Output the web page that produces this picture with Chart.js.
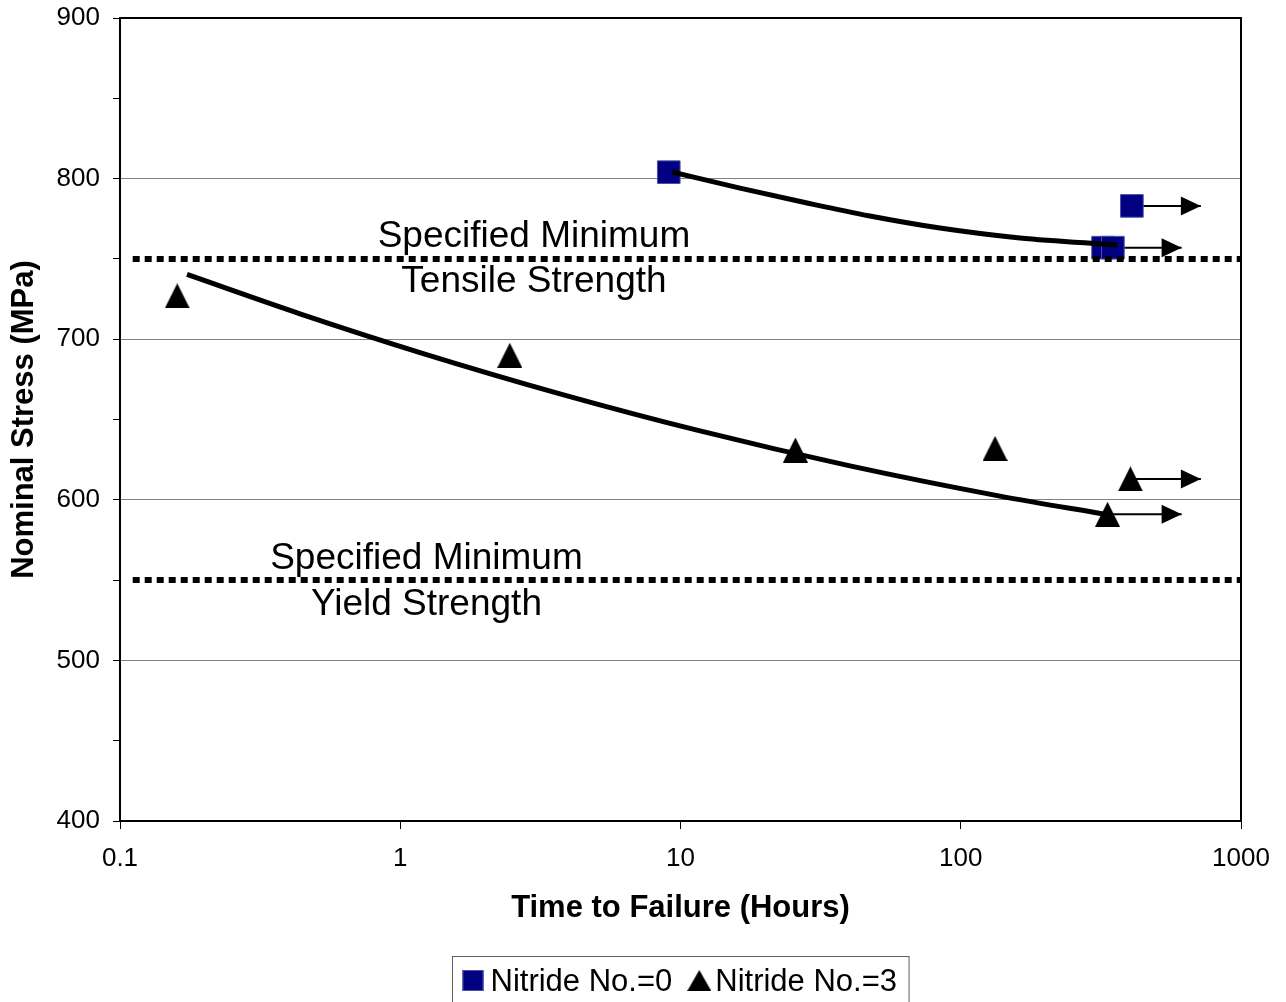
<!DOCTYPE html>
<html>
<head>
<meta charset="utf-8">
<title>Nominal Stress vs Time to Failure</title>
<script src="https://cdn.jsdelivr.net/npm/chart.js@4.4.0/dist/chart.umd.min.js"></script>
<style>
  body { margin: 0; background: #fff; }
  canvas { display: block; }
</style>
</head>
<body>
<canvas id="chart" width="1286" height="1002"></canvas>
<script>
// measured points
const nitride0Hours = [9.08, 322, 349, 408];
const nitride0Stress = [804, 757, 757, 783];
const nitride3Hours = [0.16, 2.46, 25.7, 132.5, 403, 334];
const nitride3Stress = [727, 690, 631, 632, 613, 591];

// trend curves
const trend0Hours = [9.33, 16.3, 28.3, 47.4, 84.3, 162.6, 361];
const trend0Stress = [804.1, 794.1, 784.8, 776.7, 769.2, 763, 758.7];
const trend3Hours = [0.1734, 0.4387, 1.176, 3.715, 11.74, 40.25, 138, 332.6];
const trend3Stress = [740.3, 715.8, 691.7, 666, 642.9, 621.1, 602.3, 590.8];

// run-outs: arrow from the last reading out to the tip
const runoutHours = [408, 349, 403, 334];
const runoutTipHours = [719, 614, 719, 614];
const runoutStress = [783, 757, 613, 591];

// specified minimum strengths
const limitHours = [0.111, 1000];
const tensileMin = 750;
const yieldMin = 550;

const xTicks = [0.1, 1, 10, 100, 1000];
const yMin = 400;
const yMax = 900;
const yStep = 50;

Chart.defaults.font.family = "'Liberation Sans', Arial, sans-serif";
Chart.defaults.color = "#000";

function makeTriangle(w, h) {
    const c = document.createElement("canvas");
    c.width = w;
    c.height = h;
    const g = c.getContext("2d");
    g.fillStyle = "#000";
    g.beginPath();
    g.moveTo(w / 2, 0);
    g.lineTo(w, h);
    g.lineTo(0, h);
    g.closePath();
    g.fill();
    return c;
}

const triangleMark = makeTriangle(25, 25);
const triangleLegend = makeTriangle(24, 21);

function toPoints(xs, ys) {
    return xs.map((x, i) => ({ x: x, y: ys[i] }));
}

function limitLine(label, value) {
    return {
        label: label,
        type: "line",
        data: limitHours.map(x => ({ x: x, y: value })),
        borderColor: "#000",
        borderWidth: 6,
        borderDash: [7, 5],
        borderCapStyle: "butt",
        pointRadius: 0,
        fill: false
    };
}

function trendLine(label, xs, ys) {
    return {
        label: label,
        type: "line",
        data: toPoints(xs, ys),
        borderColor: "#000",
        borderWidth: 5,
        cubicInterpolationMode: "monotone",
        pointRadius: 0,
        fill: false
    };
}

const arrowSets = runoutHours.map((x, i) => ({
    label: "runout",
    type: "line",
    data: [{ x: x, y: runoutStress[i] }, { x: runoutTipHours[i], y: runoutStress[i] }],
    borderColor: "#000",
    borderWidth: 2,
    pointRadius: 0,
    fill: false
}));

// arrow heads on the run-out lines
const arrowHeads = {
    id: "arrowHeads",
    afterDatasetsDraw(chart) {
        const ctx = chart.ctx;
        ctx.save();
        ctx.fillStyle = "#000";
        chart.data.datasets.forEach((ds, i) => {
            if (ds.label !== "runout") return;
            const pts = chart.getDatasetMeta(i).data;
            const tip = pts[pts.length - 1];
            ctx.beginPath();
            ctx.moveTo(tip.x, tip.y);
            ctx.lineTo(tip.x - 20, tip.y - 9.5);
            ctx.lineTo(tip.x - 20, tip.y + 9.5);
            ctx.closePath();
            ctx.fill();
        });
        ctx.restore();
    }
};

// text notes next to the dotted lines, plus the frame
const notes = {
    id: "notes",
    afterDatasetsDraw(chart) {
        const ctx = chart.ctx;
        const xs = chart.scales.x;
        const ys = chart.scales.y;
        const items = [
            ["Specified Minimum", 3.0, 764],
            ["Tensile Strength", 3.0, 735.5],
            ["Specified Minimum", 1.24, 563],
            ["Yield Strength", 1.24, 534.5]
        ];
        ctx.save();
        ctx.fillStyle = "#000";
        ctx.font = "37px 'Liberation Sans', Arial, sans-serif";
        ctx.textAlign = "center";
        ctx.textBaseline = "middle";
        items.forEach(it => {
            ctx.fillText(it[0], xs.getPixelForValue(it[1]), ys.getPixelForValue(it[2]));
        });
        const a = chart.chartArea;
        ctx.strokeStyle = "#000";
        ctx.lineWidth = 2;
        ctx.strokeRect(a.left, a.top, a.right - a.left, a.bottom - a.top);
        ctx.restore();
    }
};

// boxed legend under the axis title
const boxLegend = {
    id: "boxLegend",
    afterDraw(chart) {
        const ctx = chart.ctx;
        const a = chart.chartArea;
        const names = ["Nitride No.=0", "Nitride No.=3"];
        ctx.save();
        ctx.font = "31px 'Liberation Sans', Arial, sans-serif";
        const w0 = ctx.measureText(names[0]).width;
        const w1 = ctx.measureText(names[1]).width;
        const total = 10 + 21 + 7 + w0 + 15 + 24 + 4 + w1 + 12;
        const left = Math.round((a.left + a.right) / 2 - total / 2) + 0.5;
        const top = 956.5;
        ctx.strokeStyle = "#606060";
        ctx.lineWidth = 1;
        ctx.strokeRect(left, top, total, 60);

        let x = left + 10;
        ctx.fillStyle = "#000080";
        ctx.fillRect(x, 970, 21, 21);
        ctx.strokeStyle = "#4d4dad";
        ctx.strokeRect(x + 0.5, 970.5, 20, 20);
        x += 21 + 7;
        ctx.fillStyle = "#000";
        ctx.textBaseline = "alphabetic";
        ctx.fillText(names[0], x, 991);
        x += w0 + 15;
        ctx.drawImage(triangleLegend, x, 970);
        x += 24 + 4;
        ctx.fillText(names[1], x, 991);
        ctx.restore();
    }
};

const ctx = document.getElementById("chart").getContext("2d");
new Chart(ctx, {
    type: "scatter",
    data: {
        datasets: [
            limitLine("Tensile min", tensileMin),
            limitLine("Yield min", yieldMin),
            trendLine("Trend 0", trend0Hours, trend0Stress),
            trendLine("Trend 3", trend3Hours, trend3Stress),
            {
                label: "Nitride No.=0",
                data: toPoints(nitride0Hours, nitride0Stress),
                pointStyle: "rect",
                pointRadius: 16,
                backgroundColor: "#000080",
                borderColor: "#4d4dad",
                borderWidth: 1
            },
            {
                label: "Nitride No.=3",
                data: toPoints(nitride3Hours, nitride3Stress),
                pointStyle: triangleMark,
                pointRadius: 12,
                backgroundColor: "#000",
                borderColor: "#000"
            },
            ...arrowSets
        ]
    },
    options: {
        responsive: false,
        animation: false,
        events: [],
        layout: { padding: { top: 18, right: 45, bottom: 71, left: 0 } },
        plugins: {
            legend: { display: false },
            tooltip: { enabled: false }
        },
        scales: {
            x: {
                type: "logarithmic",
                min: xTicks[0],
                max: xTicks[xTicks.length - 1],
                afterBuildTicks: (scale) => {
                    scale.ticks = xTicks.map(v => ({ value: v }));
                },
                afterFit: (scale) => { scale.height = 110; },
                ticks: {
                    color: "#000",
                    font: { size: 26 },
                    padding: 14,
                    maxRotation: 0,
                    autoSkip: false,
                    callback: (v) => String(v)
                },
                grid: { drawOnChartArea: false, color: "#000", tickLength: 8, lineWidth: 1 },
                border: { color: "#000", width: 2 },
                title: {
                    display: true,
                    text: "Time to Failure (Hours)",
                    color: "#000",
                    font: { size: 31, weight: "bold" },
                    padding: { top: 0, bottom: 4 }
                }
            },
            y: {
                min: yMin,
                max: yMax,
                afterFit: (scale) => {
                    scale.width = 120;
                    // the 900 label fits in the top padding already
                    scale.paddingTop = 0;
                    scale.paddingBottom = 0;
                },
                ticks: {
                    stepSize: yStep,
                    autoSkip: false,
                    color: "#000",
                    font: { size: 26 },
                    padding: 13,
                    callback: (v) => (v % 100 === 0 ? v : "")
                },
                grid: {
                    color: (c) => (c.tick && c.tick.value % 100 === 0 ? "#808080" : "rgba(0,0,0,0)"),
                    tickColor: "#000",
                    tickLength: 7,
                    lineWidth: 1
                },
                border: { color: "#000", width: 2 },
                title: {
                    display: true,
                    text: "Nominal Stress (MPa)",
                    color: "#000",
                    font: { size: 31, weight: "bold" },
                    padding: { top: 6, bottom: 0 }
                }
            }
        }
    },
    plugins: [arrowHeads, notes, boxLegend]
});
</script>
</body>
</html>
